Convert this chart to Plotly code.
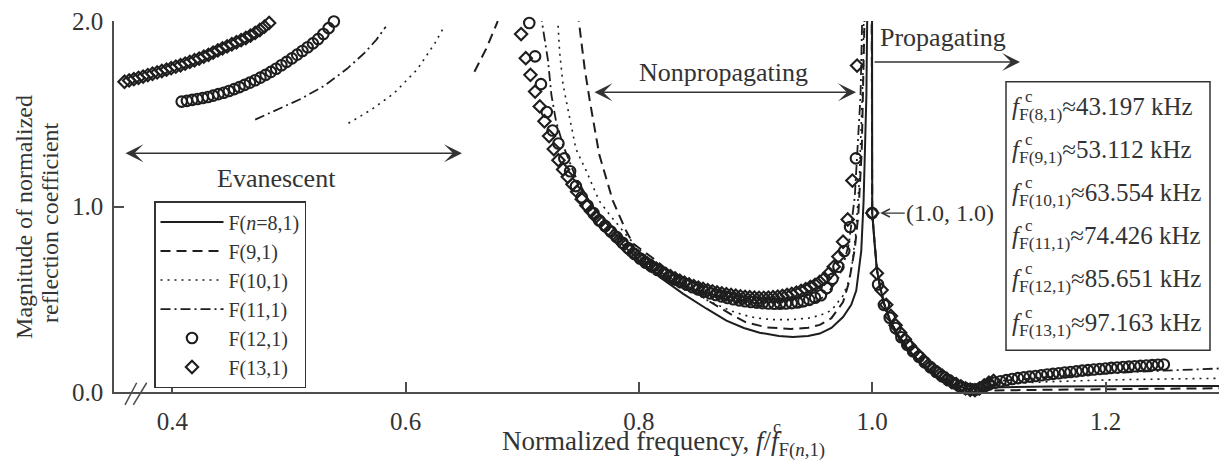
import plotly.graph_objects as go

FONT = "Liberation Serif"
INK = "#1e1e1e"
TXT = "#333333"
AX = "#4d4d4d"

# ---------------- data ----------------
# shared x grid of the propagating branch of the line curves
prop_x = [1.002, 1.004, 1.007, 1.010, 1.015, 1.020, 1.030, 1.040, 1.050, 1.060,
          1.070, 1.080, 1.090, 1.100, 1.150, 1.200, 1.250, 1.310]

# F(8,1) solid
f8_np_x = [0.785, 0.800, 0.820, 0.838, 0.858, 0.875, 0.890, 0.9035, 0.920, 0.932,
           0.945, 0.955, 0.965, 0.975, 0.982, 0.9863, 0.9906, 0.9926, 0.995, 0.9965,
           0.999, 1.000]
f8_np_y = [0.80, 0.71, 0.61, 0.529, 0.449, 0.385, 0.345, 0.32, 0.302, 0.297,
           0.302, 0.315, 0.345, 0.404, 0.47, 0.547, 0.761, 1.03, 1.6, 2.5,
           8.0, 0.965]
f8_pr_y = [0.80, 0.66, 0.56, 0.48, 0.39, 0.33, 0.235, 0.165, 0.11, 0.068,
           0.038, 0.022, 0.02, 0.024, 0.03, 0.032, 0.032, 0.032]

# F(9,1) dashed
f9_ev_x = [0.659, 0.669, 0.679]
f9_ev_y = [1.727, 1.85, 2.0]
f9_np_x = [0.7475, 0.7535, 0.758, 0.766, 0.7777, 0.789, 0.795, 0.815, 0.840, 0.860,
           0.880, 0.892, 0.910, 0.930, 0.945, 0.955, 0.965, 0.975, 0.980, 0.985,
           0.988, 0.991, 0.994, 0.998, 1.000]
f9_np_y = [2.05, 1.744, 1.566, 1.28, 1.03, 0.869, 0.80, 0.708, 0.575, 0.49,
           0.415, 0.375, 0.348, 0.34, 0.346, 0.362, 0.398, 0.485, 0.59, 0.77,
           0.95, 1.3, 2.2, 6.0, 0.965]
f9_pr_y = [0.80, 0.66, 0.56, 0.48, 0.39, 0.33, 0.235, 0.165, 0.11, 0.066,
           0.035, 0.016, 0.01, 0.008, 0.012, 0.016, 0.019, 0.021]

# F(10,1) dotted
f10_ev_x = [0.551, 0.570, 0.590, 0.610, 0.625, 0.633]
f10_ev_y = [1.449, 1.52, 1.61, 1.74, 1.88, 1.97]
f10_np_x = [0.730, 0.732, 0.735, 0.7406, 0.746, 0.755, 0.766, 0.775, 0.790, 0.800,
            0.820, 0.840, 0.860, 0.880, 0.890, 0.900, 0.915, 0.930, 0.945, 0.955,
            0.965, 0.975, 0.980, 0.983, 0.986, 0.989, 0.992, 0.995, 0.998, 1.000]
f10_np_y = [2.05, 1.834, 1.655, 1.476, 1.31, 1.19, 1.03, 0.955, 0.84, 0.77,
            0.65, 0.56, 0.49, 0.435, 0.415, 0.40, 0.39, 0.39, 0.398, 0.413,
            0.44, 0.52, 0.60, 0.70, 0.86, 1.15, 1.7, 3.0, 6.0, 0.965]
f10_pr_y = [0.80, 0.66, 0.56, 0.48, 0.39, 0.33, 0.236, 0.167, 0.113, 0.072,
            0.045, 0.032, 0.034, 0.04, 0.055, 0.065, 0.07, 0.075]

# F(11,1) dash-dot
f11_ev_x = [0.471, 0.493, 0.510, 0.530, 0.550, 0.565, 0.575, 0.583]
f11_ev_y = [1.469, 1.53, 1.58, 1.65, 1.744, 1.83, 1.90, 1.97]
f11_np_x = [0.7155, 0.722, 0.725, 0.729, 0.735, 0.745, 0.760, 0.780, 0.800, 0.820,
            0.840, 0.860, 0.880, 0.900, 0.920, 0.930, 0.940, 0.950, 0.960, 0.970,
            0.975, 0.980, 0.985, 0.990, 0.993, 0.998, 1.000]
f11_np_y = [2.05, 1.79, 1.60, 1.458, 1.33, 1.17, 1.0, 0.85, 0.73, 0.64,
            0.575, 0.525, 0.49, 0.465, 0.455, 0.455, 0.46, 0.48, 0.52, 0.60,
            0.68, 0.80, 1.05, 1.6, 2.5, 6.0, 0.965]
f11_pr_y = [0.80, 0.66, 0.56, 0.48, 0.39, 0.33, 0.237, 0.168, 0.115, 0.075,
            0.05, 0.04, 0.045, 0.055, 0.08, 0.10, 0.115, 0.13]

# F(12,1) circles
f12_ev_x = [0.408, 0.4125, 0.417, 0.4215, 0.426, 0.4305, 0.435, 0.4395, 0.444, 0.4485,
            0.453, 0.4575, 0.462, 0.4665, 0.471, 0.4755, 0.480, 0.4845, 0.489, 0.4935,
            0.498, 0.5025, 0.507, 0.5115, 0.516, 0.5205, 0.525, 0.5295, 0.534, 0.5385]
f12_ev_y = [1.566, 1.570, 1.575, 1.580, 1.585, 1.591, 1.598, 1.606, 1.614, 1.623,
            1.633, 1.644, 1.656, 1.668, 1.681, 1.695, 1.710, 1.726, 1.743, 1.762,
            1.780, 1.799, 1.819, 1.839, 1.859, 1.880, 1.903, 1.930, 1.962, 1.998]
f12_np_x = [0.706, 0.711, 0.716, 0.721, 0.726, 0.731, 0.736, 0.741, 0.746, 0.751,
            0.756, 0.761, 0.766, 0.771, 0.776, 0.781, 0.786, 0.791, 0.796, 0.801,
            0.806, 0.811, 0.816, 0.821, 0.826, 0.831, 0.836, 0.841, 0.846, 0.851,
            0.856, 0.861, 0.866, 0.871, 0.876, 0.881, 0.886, 0.891, 0.896, 0.901,
            0.906, 0.911, 0.916, 0.921, 0.926, 0.931, 0.936, 0.941, 0.946, 0.951,
            0.956, 0.961, 0.966, 0.971, 0.976, 0.981, 0.986]
f12_np_y = [1.99, 1.81, 1.66, 1.51, 1.41, 1.34, 1.26, 1.19, 1.11, 1.05,
            1.005, 0.965, 0.925, 0.895, 0.865, 0.835, 0.805, 0.775, 0.745, 0.72,
            0.697, 0.677, 0.658, 0.64, 0.623, 0.607, 0.592, 0.578, 0.565, 0.553,
            0.542, 0.532, 0.523, 0.515, 0.507, 0.50, 0.494, 0.489, 0.485, 0.482,
            0.479, 0.477, 0.476, 0.476, 0.477, 0.479, 0.483, 0.489, 0.497, 0.508,
            0.522, 0.56, 0.61, 0.675, 0.76, 0.89, 1.26]
f12_pr_x = [1.000, 1.005, 1.010, 1.015, 1.020, 1.025, 1.030, 1.035, 1.040, 1.045,
            1.050, 1.055, 1.060, 1.065, 1.070, 1.075, 1.080, 1.085, 1.090, 1.095,
            1.100, 1.105, 1.110, 1.115, 1.120, 1.125, 1.130, 1.135, 1.140, 1.145,
            1.150, 1.155, 1.160, 1.165, 1.170, 1.175, 1.180, 1.185, 1.190, 1.195,
            1.200, 1.205, 1.210, 1.215, 1.220, 1.225, 1.230, 1.235, 1.240, 1.245,
            1.250]
f12_pr_y = [0.965, 0.58, 0.47, 0.40, 0.345, 0.295, 0.255, 0.22, 0.19, 0.16,
            0.133, 0.108, 0.085, 0.065, 0.047, 0.032, 0.02, 0.014, 0.015, 0.025,
            0.04, 0.05, 0.058, 0.064, 0.07, 0.075, 0.079, 0.083, 0.086, 0.09,
            0.094, 0.098, 0.101, 0.105, 0.108, 0.111, 0.115, 0.118, 0.121, 0.124,
            0.127, 0.13, 0.132, 0.135, 0.137, 0.139, 0.141, 0.143, 0.145, 0.147,
            0.148]

# F(13,1) diamonds
f13_ev_x = [0.359, 0.363, 0.367, 0.371, 0.375, 0.379, 0.383, 0.387, 0.391, 0.395,
            0.399, 0.403, 0.407, 0.411, 0.415, 0.419, 0.423, 0.427, 0.431, 0.435,
            0.439, 0.443, 0.447, 0.451, 0.455, 0.459, 0.463, 0.467, 0.471, 0.475,
            0.479, 0.483]
f13_ev_y = [1.673, 1.680, 1.687, 1.694, 1.701, 1.709, 1.716, 1.723, 1.731, 1.738,
            1.746, 1.754, 1.762, 1.771, 1.780, 1.789, 1.798, 1.808, 1.818, 1.830,
            1.842, 1.853, 1.864, 1.875, 1.886, 1.897, 1.909, 1.922, 1.936, 1.952,
            1.970, 1.990]
f13_np_x = [0.699, 0.703, 0.707, 0.711, 0.715, 0.719, 0.723, 0.727, 0.731, 0.735,
            0.739, 0.743, 0.747, 0.751, 0.755, 0.759, 0.763, 0.767, 0.771, 0.775,
            0.779, 0.783, 0.787, 0.791, 0.795, 0.799, 0.803, 0.807, 0.811, 0.815,
            0.819, 0.823, 0.827, 0.831, 0.835, 0.839, 0.843, 0.847, 0.851, 0.855,
            0.859, 0.863, 0.867, 0.871, 0.875, 0.879, 0.883, 0.887, 0.891, 0.895,
            0.899, 0.903, 0.907, 0.911, 0.915, 0.919, 0.923, 0.927, 0.931, 0.935,
            0.939, 0.943, 0.947, 0.951, 0.955, 0.959, 0.963, 0.967, 0.971, 0.975,
            0.979, 0.983, 0.987]
f13_np_y = [1.93, 1.80, 1.71, 1.62, 1.54, 1.46, 1.38, 1.31, 1.25, 1.20,
            1.16, 1.12, 1.08, 1.04, 1.005, 0.975, 0.945, 0.92, 0.895, 0.87,
            0.845, 0.82, 0.795, 0.77, 0.75, 0.73, 0.71, 0.695, 0.68, 0.665,
            0.65, 0.637, 0.624, 0.612, 0.60, 0.59, 0.58, 0.571, 0.563, 0.556,
            0.549, 0.543, 0.537, 0.532, 0.527, 0.523, 0.519, 0.516, 0.513, 0.511,
            0.509, 0.508, 0.508, 0.509, 0.511, 0.514, 0.518, 0.523, 0.529, 0.536,
            0.545, 0.555, 0.566, 0.578, 0.593, 0.612, 0.64, 0.675, 0.73, 0.81,
            0.93, 1.14, 1.76]
f13_pr_x = [1.000, 1.004, 1.008, 1.012, 1.016, 1.020, 1.024, 1.028, 1.032, 1.036,
            1.040, 1.044, 1.048, 1.052, 1.056, 1.060, 1.064, 1.068, 1.072, 1.076,
            1.080, 1.084, 1.088, 1.092, 1.096, 1.100, 1.104]
f13_pr_y = [0.965, 0.64, 0.55, 0.47, 0.41, 0.36, 0.32, 0.285, 0.25, 0.22,
            0.195, 0.17, 0.145, 0.125, 0.105, 0.088, 0.07, 0.055, 0.042, 0.03,
            0.02, 0.012, 0.01, 0.02, 0.035, 0.05, 0.06]

# cut-off frequencies for the box
box_modes = ["F(8,1)", "F(9,1)", "F(10,1)", "F(11,1)", "F(12,1)", "F(13,1)"]
box_freqs = ["43.197", "53.112", "63.554", "74.426", "85.651", "97.163"]

x_ticks = [0.4, 0.6, 0.8, 1.0, 1.2]
x_tick_text = ["0.4", "0.6", "0.8", "1.0", "1.2"]
y_ticks = [0.0, 1.0, 2.0]
y_tick_text = ["0.0", "1.0", "2.0"]


def join(*segs):
    xs, ys = [], []
    for i, (sx, sy) in enumerate(segs):
        if i:
            xs.append(None)
            ys.append(None)
        xs += list(sx)
        ys += list(sy)
    return xs, ys


fig = go.Figure()

line_specs = [
    ("F(<i>n</i>=8,1)", [(f8_np_x + prop_x, f8_np_y + f8_pr_y)], "solid", 2.0),
    ("F(9,1)", [(f9_ev_x, f9_ev_y), (f9_np_x + prop_x, f9_np_y + f9_pr_y)], "10px,6px", 2.0),
    ("F(10,1)", [(f10_ev_x, f10_ev_y), (f10_np_x + prop_x, f10_np_y + f10_pr_y)], "2px,5px", 1.6),
    ("F(11,1)", [(f11_ev_x, f11_ev_y), (f11_np_x + prop_x, f11_np_y + f11_pr_y)], "10px,4px,2px,4px", 1.8),
]
for name, segs, dash, w in line_specs:
    xs, ys = join(*segs)
    fig.add_trace(go.Scatter(x=xs, y=ys, mode="lines", name=name, connectgaps=False,
                             line=dict(color=INK, width=w, dash=dash)))

mx, my = join((f12_ev_x, f12_ev_y), (f12_np_x, f12_np_y), (f12_pr_x, f12_pr_y))
fig.add_trace(go.Scatter(x=mx, y=my, mode="markers", name="F(12,1)", cliponaxis=False,
                         marker=dict(symbol="circle-open", size=10.5, color=INK,
                                     line=dict(width=2.1, color=INK))))
mx, my = join((f13_ev_x, f13_ev_y), (f13_np_x, f13_np_y), (f13_pr_x, f13_pr_y))
fig.add_trace(go.Scatter(x=mx, y=my, mode="markers", name="F(13,1)", cliponaxis=False,
                         marker=dict(symbol="diamond-open", size=9.5, color=INK,
                                     line=dict(width=2.1, color=INK))))

# ---------------- layout ----------------
# the page body has an 8 px margin, so the figure is 8 px smaller on each side
OFF = 8
W, H = 1227 - OFF, 463 - OFF
L, R, T, B = 114 - OFF, 0, 19 - OFF, 71
PW, PH = W - L - R, H - T - B


def px_x(p):  # screen pixel -> paper
    return (p - OFF - L) / PW


def px_y(p):
    return (H - B - (p - OFF)) / PH


ann = []
def txt(x, y, s, size, **kw):
    d = dict(x=x, y=y, text=s, showarrow=False,
             font=dict(family=FONT, size=size, color=TXT))
    d.update(kw)
    ann.append(d)

# region labels
txt(0.4897, 1.153, "Evanescent", 26, xref="x", yref="y")
txt(0.8729, 1.721, "Nonpropagating", 26, xref="x", yref="y")
txt(1.0607, 1.914, "Propagating", 26, xref="x", yref="y")

# arrows
def arrow(x0, x1, y, both=True):
    d = dict(x=x1, y=y, ax=x0, ay=y, xref="x", yref="y", axref="x", ayref="y",
             text="", showarrow=True, arrowhead=3, arrowsize=2.0, arrowwidth=1.5,
             arrowcolor="#333333")
    if both:
        d.update(arrowside="end+start", startarrowhead=3, startarrowsize=2.0)
    ann.append(d)

arrow(0.3586, 0.6483, 1.288)
arrow(0.7606, 0.9861, 1.616)
arrow(1.0007, 1.1267, 1.780, both=False)

ann.append(dict(x=1.0, y=0.965, xref="x", yref="y", ax=78, ay=0,
                text="(1.0, 1.0)", showarrow=True, arrowhead=5, arrowsize=1.3,
                arrowwidth=1.2, arrowcolor="#333333", standoff=8,
                font=dict(family=FONT, size=24, color=TXT)))

# cut-off frequency box
rows_py = [105, 148.3, 191.7, 235, 278.3, 321.7]
for mode, fr, py in zip(box_modes, box_freqs, rows_py):
    txt(px_x(1010), px_y(py), "<i>f</i><sub>%s</sub>≈%s kHz" % (mode, fr), 25,
        xref="paper", yref="paper", xanchor="left", yanchor="middle", yshift=-2)
    txt(px_x(1029), px_y(py - 10), "c", 17,
        xref="paper", yref="paper", xanchor="center", yanchor="middle")

# axis titles
txt(px_x(24), px_y(216), "Magnitude of normalized", 24, xref="paper", yref="paper",
    textangle=-90, xanchor="center", yanchor="middle")
txt(px_x(50), px_y(222), "reflection coefficient", 24, xref="paper", yref="paper",
    textangle=-90, xanchor="center", yanchor="middle")
txt(px_x(500), px_y(441), "Normalized frequency, <i>f</i>/<i>f</i><sub>F(<i>n</i>,1)</sub>", 27,
    xref="paper", yref="paper", xanchor="left", yanchor="middle", yshift=-3)
txt(px_x(777), px_y(427), "c", 18, xref="paper", yref="paper",
    xanchor="center", yanchor="middle")

shapes = [
    dict(type="rect", xref="paper", yref="paper", x0=px_x(1006), x1=px_x(1210),
         y0=px_y(350), y1=px_y(80), line=dict(color="#333333", width=1.5),
         fillcolor="rgba(0,0,0,0)"),
    dict(type="line", xref="paper", yref="paper", x0=px_x(125), y0=px_y(405),
         x1=px_x(136.7), y1=px_y(382.7), line=dict(color=AX, width=1.5)),
    dict(type="line", xref="paper", yref="paper", x0=px_x(133.3), y0=px_y(405),
         x1=px_x(146.7), y1=px_y(382.7), line=dict(color=AX, width=1.5)),
]

axis_common = dict(showline=True, linecolor=AX, linewidth=1.5, ticks="inside",
                   ticklen=10, tickwidth=1.5, tickcolor=AX, showgrid=False,
                   zeroline=False, mirror=False, ticklabeloverflow="allow",
                   tickfont=dict(family=FONT, size=25, color=TXT))

fig.update_layout(
    width=W, height=H, autosize=False,
    margin=dict(l=L, r=R, t=T, b=B),
    paper_bgcolor="white", plot_bgcolor="white",
    xaxis=dict(range=[0.35, 0.35 + PW / 1166.5], tickvals=x_ticks, ticktext=x_tick_text,
               ticklabelstandoff=6, **axis_common),
    yaxis=dict(range=[0, 2.0005], tickvals=y_ticks, ticktext=y_tick_text,
               ticklabelstandoff=4, **axis_common),
    showlegend=True,
    legend=dict(x=px_x(154), y=px_y(200), xanchor="left", yanchor="top",
                bgcolor="white", bordercolor="#333333", borderwidth=1.5,
                font=dict(family=FONT, size=20, color=TXT), tracegroupgap=0,
                itemwidth=63),
    annotations=ann,
    shapes=shapes,
    font=dict(family=FONT, color=TXT),
)

fig.write_html("out.html")
